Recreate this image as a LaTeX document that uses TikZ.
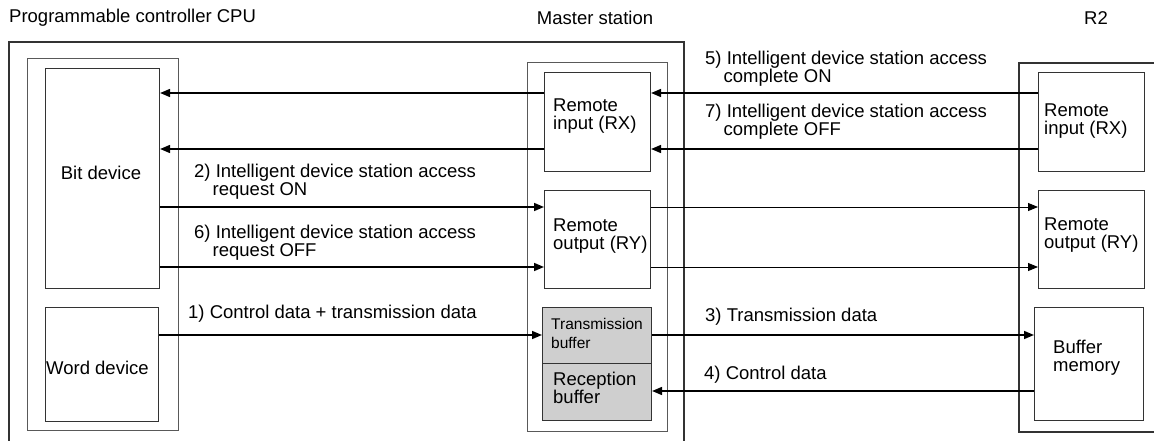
\documentclass[tikz,border=0pt]{standalone}
\usepackage{fontspec}
\setmainfont{Liberation Sans}
\usetikzlibrary{arrows.meta}
\begin{document}
\begin{tikzpicture}[x=1pt,y=-1pt,
  frame/.style={draw=black!80,line width=1.1pt},
  box/.style={draw=black!80,line width=1.1pt,anchor=north west,inner sep=0pt},
  lightbox/.style={box,draw=black!65,line width=1pt},
  shade/.style={box,fill=gray!38},
  lbl/.style={anchor=west,align=left,inner sep=0pt,font=\fontsize{18.5}{18}\selectfont},
  small/.style={anchor=west,align=left,inner sep=0pt,font=\fontsize{15.5}{19}\selectfont},
  arr/.style={-{Triangle[length=10pt,width=8pt]},line width=1.6pt},
  arrthin/.style={-{Triangle[length=10pt,width=8pt]},line width=1pt}]
\useasboundingbox (0,0) rectangle (1154,441);
% titles
\node[lbl] (tcpu) at (9,18) {Programmable controller CPU};
\node[lbl,anchor=center] (tms) at (595,18) {Master station};
\node[lbl,anchor=center] (tr2) at (1096,18) {R2};
% outer frames
\draw[frame] (9,441) -- (9,42) -- (684,42) -- (684,441);
\draw[frame] (1154,63) -- (1019,63) -- (1019,432) -- (1154,432);
\node[lightbox,minimum width=151pt,minimum height=372pt] (cpuin) at (27,58) {};
\node[lightbox,minimum width=140pt,minimum height=369pt] (msin) at (527,62) {};
% CPU devices
\node[box,minimum width=114pt,minimum height=220pt] (bit) at (45,68) {};
\node[box,minimum width=113pt,minimum height=114pt] (word) at (45,307) {};
\node[lbl,anchor=center] (bitt) at (101,173) {Bit device};
\node[lbl] (wordt) at (46,368) {Word device};
% master station
\node[box,minimum width=106pt,minimum height=99pt] (mRX) at (544,72) {};
\node[box,minimum width=106pt,minimum height=98pt] (mRY) at (544,190) {};
\node[shade,minimum width=109pt,minimum height=56pt] (tx) at (542,307) {};
\node[shade,minimum width=109pt,minimum height=57pt] (rx) at (542,363) {};
\node[lbl] (mRXt) at (553,116) {Remote\\input (RX)};
\node[lbl] (mRYt) at (553,236) {Remote\\output (RY)};
\node[small] (txt) at (551,333.5) {Transmission\\buffer};
\node[lbl] (rxt) at (553,388) {Reception\\buffer};
% R2
\node[box,minimum width=106pt,minimum height=99pt] (rRX) at (1038,72) {};
\node[box,minimum width=106pt,minimum height=98pt] (rRY) at (1038,190) {};
\node[box,minimum width=109pt,minimum height=113pt] (bm) at (1034,307) {};
\node[lbl] (rRXt) at (1044,121.5) {Remote\\input (RX)};
\node[lbl] (rRYt) at (1044,235) {Remote\\output (RY)};
\node[lbl] (bmt) at (1053,357.5) {Buffer\\memory};
% arrows
\draw[arr] (mRX.west |- 0,93) -- (bit.east |- 0,93);
\draw[arr] (rRX.west |- 0,93) -- (mRX.east |- 0,93);
\draw[arr] (mRX.west |- 0,149) -- (bit.east |- 0,149);
\draw[arr] (rRX.west |- 0,149) -- (mRX.east |- 0,149);
\draw[arr] (bit.east |- 0,207) -- (mRY.west |- 0,207);
\draw[arrthin] (mRY.east |- 0,207) -- (rRY.west |- 0,207);
\draw[arr] (bit.east |- 0,267) -- (mRY.west |- 0,267);
\draw[arrthin] (mRY.east |- 0,267) -- (rRY.west |- 0,267);
\draw[arr] (word.east |- 0,335) -- (tx.west |- 0,335);
\draw[arr] (tx.east |- 0,335) -- (bm.west |- 0,335);
\draw[arr] (bm.west |- 0,391) -- (rx.east |- 0,391);
% labels
\node[lbl] (l2) at (194,182) {2) Intelligent device station access\\\hspace*{18.5pt}request ON};
\node[lbl] (l6) at (194,242.5) {6) Intelligent device station access\\\hspace*{18.5pt}request OFF};
\node[lbl] (l1) at (188,314) {1) Control data + transmission data};
\node[lbl] (l5) at (705,68.5) {5) Intelligent device station access\\\hspace*{18.5pt}complete ON};
\node[lbl] (l7) at (705,122) {7) Intelligent device station access\\\hspace*{18.5pt}complete OFF};
\node[lbl] (l3) at (705,317) {3) Transmission data};
\node[lbl] (l4) at (704,375) {4) Control data};
\end{tikzpicture}
\end{document}
